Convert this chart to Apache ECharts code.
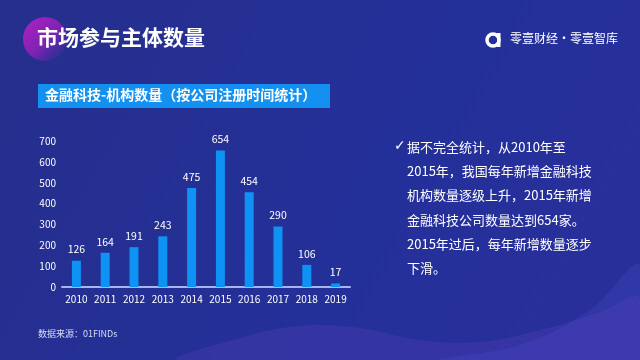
<!DOCTYPE html>
<html><head><meta charset="utf-8">
<script src="https://cdn.jsdelivr.net/npm/echarts@6/dist/echarts.min.js"></script>
<style>html,body{margin:0;padding:0;background:#25308f}#c{width:640px;height:360px}</style>
</head><body><div id="c"></div>
<script>
const years = ['2010','2011','2012','2013','2014','2015','2016','2017','2018','2019'];
const counts = [126,164,191,243,475,654,454,290,106,17];
const yTicks = [0,100,200,300,400,500,600,700];
const pageTitle = '市场参与主体数量';
const chartTitle = '金融科技-机构数量（按公司注册时间统计）';
const brand = '零壹财经·零壹智库';
const noteLines = ['据不完全统计，从2010年至','2015年，我国每年新增金融科技','机构数量逐级上升，2015年新增','金融科技公司数量达到654家。','2015年过后，每年新增数量逐步','下滑。'];
const source = '数据来源：01FINDs';
const F = '"Noto Sans CJK SC","Noto Sans",sans-serif';
function lg(x,y,x2,y2,stops){return {type:'linear',x:x,y:y,x2:x2,y2:y2,colorStops:stops.map(s=>({offset:s[0],color:s[1]}))};}

const chart = echarts.init(document.getElementById('c'));
const graphics = [
  {type:'rect',z:-10,shape:{x:0,y:0,width:640,height:360},style:{fill:lg(0,0,1,1,[[0,'#262f8c'],[0.6,'#24309a'],[1,'#2a2f9a']])}},
  {type:'polygon',z:-9,shape:{points:[[180,360],[240,338],[300,326],[360,328],[420,340],[480,342],[540,330],[600,312],[640,298],[640,360]],smooth:0.4},style:{fill:'rgba(110,70,200,0.22)'}},
  {type:'polygon',z:-9,shape:{points:[[440,360],[520,345],[590,310],[640,265],[640,360]],smooth:0.4},style:{fill:'rgba(90,100,230,0.16)'}},
  {type:'circle',z:1,shape:{cx:45,cy:39,r:22},style:{fill:lg(0,0,1,1,[[0,'#b51fc4'],[0.55,'#7a24b2'],[1,'rgba(40,48,150,0.2)']])}},
  {type:'text',z:2,left:37,top:27,style:{text:pageTitle,fill:'#ffffff',font:'bold 21px '+F}},
  {type:'rect',z:1,shape:{x:38,y:84,width:292,height:24},style:{fill:'#1390f0'}},
  {type:'text',z:2,left:45,top:88,style:{text:chartTitle,fill:'#ffffff',font:'bold 14px '+F}},
  {type:'circle',z:2,shape:{cx:493,cy:40,r:6},style:{fill:'none',stroke:'#ffffff',lineWidth:3.5}},
  {type:'rect',z:2,shape:{x:497,y:33,width:3.5,height:14},style:{fill:'#ffffff'}},
  {type:'text',z:2,left:510,top:32,style:{text:brand,fill:'#ffffff',font:'12px '+F}},
  {type:'text',z:2,left:394,top:139,style:{text:'✓',fill:'#ffffff',font:'14px "DejaVu Sans",sans-serif'}},
  {type:'text',z:2,left:407,top:135,style:{text:noteLines.join('\n'),fill:'#ffffff',font:'13px '+F,lineHeight:24.2}},
  {type:'text',z:2,left:38,top:329,style:{text:source,fill:'#d8dcf5',font:'9px '+F}}
];
chart.setOption({
  animation:false,
  backgroundColor:'transparent',
  graphic:graphics,
  grid:{left:62,right:290,top:141,bottom:73},
  xAxis:{type:'category',data:years,axisLine:{lineStyle:{color:'#a9b3ee',width:2}},axisTick:{show:false},
    axisLabel:{interval:0,color:'#ffffff',fontSize:10,fontFamily:F,margin:7}},
  yAxis:{type:'value',min:yTicks[0],max:yTicks[yTicks.length-1],interval:100,splitLine:{show:false},axisLine:{show:false},axisTick:{show:false},
    axisLabel:{color:'#ffffff',fontSize:10,fontFamily:F,margin:6}},
  series:[{type:'bar',data:counts,barWidth:9,itemStyle:{color:'#0e92f4'},
    label:{show:true,position:'top',color:'#ffffff',fontSize:10.5,fontFamily:F,distance:6}}]
});
</script></body></html>
